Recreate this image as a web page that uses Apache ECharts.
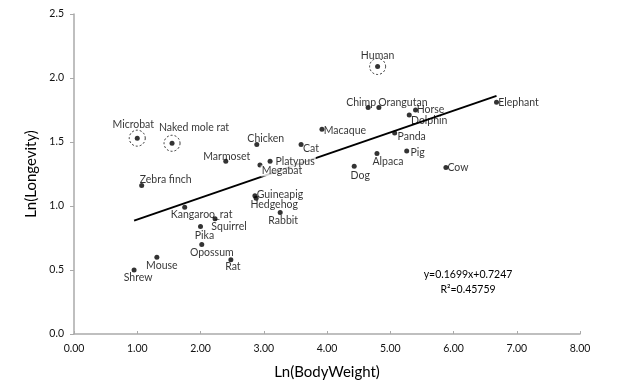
<!DOCTYPE html>
<html>
<head>
<meta charset="utf-8">
<script src="https://cdn.jsdelivr.net/npm/echarts@6/dist/echarts.min.js"></script>
<style>html,body{margin:0;padding:0;background:#fff}#c{width:628px;height:392px}</style>
</head>
<body>
<div id="c"></div>
<script>
// ---- data ----
const names = ['Shrew','Mouse','Microbat','Zebra finch','Naked mole rat','Kangaroo_rat','Pika','Opossum','Squirrel','Marmoset','Rat','Guineapig','Hedgehog','Chicken','Megabat','Platypus','Rabbit','Cat','Macaque','Dog','Chimp','Alpaca','Human','Orangutan','Panda','Pig','Dolphin','Horse','Cow','Elephant'];
const lnBodyWeight = [0.95,1.31,1.00,1.07,1.55,1.75,2.00,2.02,2.23,2.40,2.48,2.86,2.88,2.89,2.94,3.10,3.26,3.59,3.92,4.43,4.65,4.79,4.80,4.82,5.07,5.26,5.30,5.40,5.88,6.68];
const lnLongevity = [0.50,0.60,1.53,1.16,1.49,0.99,0.84,0.70,0.90,1.35,0.58,1.08,1.06,1.48,1.32,1.35,0.95,1.48,1.60,1.31,1.77,1.41,2.09,1.77,1.57,1.43,1.71,1.75,1.30,1.81];
const circled = ['Microbat','Naked mole rat','Human'];
const trendX = [0.95, 6.68];
const trendY = [0.886, 1.860];
const equationText = ['y=0.1699x+0.7247', 'R\u00b2=0.45759'];
const xTicks = {min:0, max:8, step:1};
const yTicks = {min:0, max:2.5, step:0.5};

// ---- label placement (style only) ----
const labelOffset = {
  'Shrew':[4,8],'Mouse':[5,8],'Microbat':[-4,-14],'Zebra finch':[24,-6],'Naked mole rat':[22,-16],
  'Kangaroo_rat':[17,7],'Pika':[4,9],'Opossum':[10,8],'Squirrel':[14,8],'Marmoset':[1,-5],'Rat':[2,7],
  'Guineapig':[25,-1],'Hedgehog':[18,6],'Chicken':[9,-6],'Megabat':[22,6],'Platypus':[25,0],'Rabbit':[3,8],
  'Cat':[10,4],'Macaque':[23,1],'Dog':[6,9],'Chimp':[-7,-5],'Alpaca':[11,8],'Human':[0,-11],'Orangutan':[24,-5],
  'Panda':[17,4],'Pig':[11,2],'Dolphin':[20,5],'Horse':[15,0],'Cow':[12,0],'Elephant':[22,0]
};
const whiteBg = ['Megabat','Platypus'];

const FONT = 'Lato';
const points = names.map((n,i)=>({
  name:n, value:[lnBodyWeight[i], lnLongevity[i]],
  label:{show:true, formatter:n, position:'inside', offset:labelOffset[n]||[0,0], align:'center', verticalAlign:'middle',
    color:'#000', fontSize:10.5, fontFamily:FONT,
    backgroundColor: whiteBg.includes(n)?'#fff':'transparent', padding: whiteBg.includes(n)?[0,1]:0}
}));
const circlePts = names.map((n,i)=>circled.includes(n)?[lnBodyWeight[i], lnLongevity[i]]:null).filter(Boolean);

const chart = echarts.init(document.getElementById('c'), null, {renderer:'canvas'});
chart.setOption({
  animation:false,
  backgroundColor:'#fff',
  grid:{left:74, right:48, top:14, bottom:58, containLabel:false},
  xAxis:{type:'value', min:xTicks.min, max:xTicks.max, interval:xTicks.step,
    name:'Ln(BodyWeight)', nameLocation:'middle', nameGap:31,
    nameTextStyle:{fontSize:15, color:'#000', fontFamily:FONT},
    axisLine:{lineStyle:{color:'#aaa', width:1.5}},
    axisTick:{show:true, inside:true, length:3, lineStyle:{color:'#aaa'}},
    axisLabel:{formatter:v=>v.toFixed(2), color:'#111', fontSize:10.5, fontFamily:FONT, margin:9},
    splitLine:{show:false}},
  yAxis:{type:'value', min:yTicks.min, max:yTicks.max, interval:yTicks.step,
    name:'Ln(Longevity)', nameLocation:'middle', nameGap:31, nameRotate:90,
    nameTextStyle:{fontSize:15, color:'#000', fontFamily:FONT},
    axisLine:{show:true, lineStyle:{color:'#aaa', width:1.5}},
    axisTick:{show:true, inside:false, length:4, lineStyle:{color:'#aaa'}},
    axisLabel:{formatter:v=>v.toFixed(1), color:'#111', fontSize:10.5, fontFamily:FONT, margin:10},
    splitLine:{show:false}},
  graphic:[
    {type:'text', x:468, y:275, style:{text:equationText[0], fill:'#000', font:'10.5px '+FONT, textAlign:'center', textVerticalAlign:'middle'}},
    {type:'text', x:468, y:290, style:{text:equationText[1], fill:'#000', font:'10.5px '+FONT, textAlign:'center', textVerticalAlign:'middle'}}
  ],
  series:[
    {type:'line', data:trendX.map((x,i)=>[x,trendY[i]]), showSymbol:false, symbol:'none',
      lineStyle:{color:'#000', width:2}, z:1, silent:true},
    {type:'scatter', data:circlePts, symbol:'circle', symbolSize:16,
      itemStyle:{color:'rgba(0,0,0,0)', borderColor:'#000', borderWidth:1, borderType:[2,2]}, z:2},
    {type:'scatter', data:points, symbol:'circle', symbolSize:5, itemStyle:{color:'#000'}, z:3}
  ]
});
</script>
</body>
</html>
